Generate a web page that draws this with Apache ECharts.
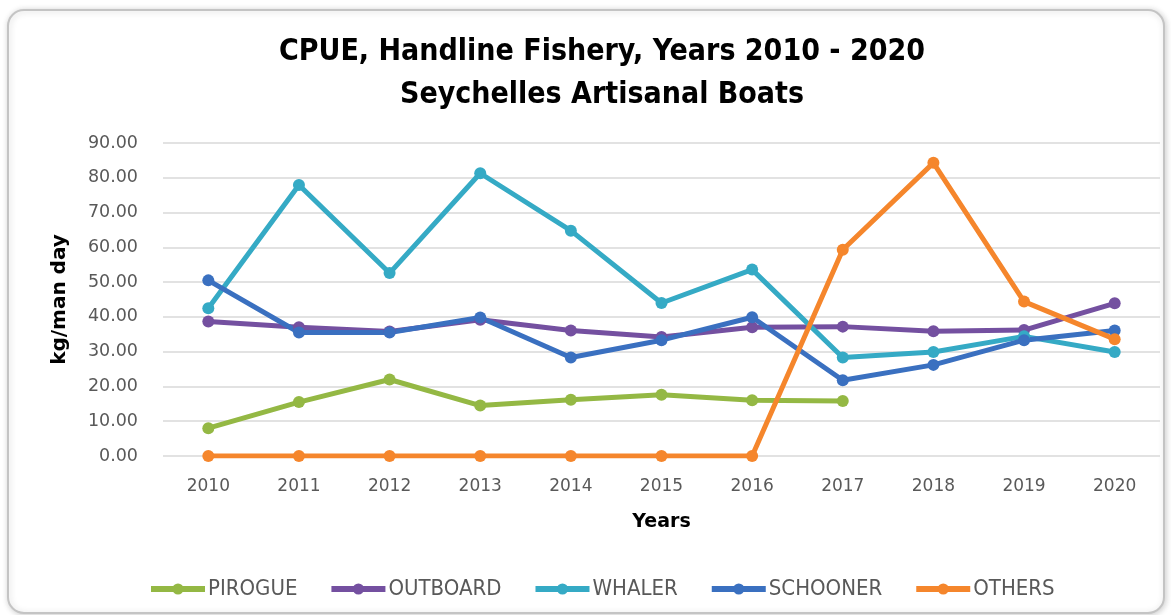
<!DOCTYPE html>
<html>
<head>
    <meta charset="utf-8">
    <title>CPUE Handline Fishery</title>
    <script src="https://cdn.jsdelivr.net/npm/echarts@6/dist/echarts.min.js"></script>
    <style>
        html, body { margin: 0; padding: 0; background: #fff; }
        #main { width: 1171px; height: 615px; }
    </style>
</head>
<body>
<div id="main"></div>
<script type="text/javascript">
// values
var years = ['2010', '2011', '2012', '2013', '2014', '2015', '2016', '2017', '2018', '2019', '2020'];
var pirogue  = [8.0, 15.5, 22.0, 14.5, 16.2, 17.6, 16.0, 15.8, null, null, null];
var outboard = [38.7, 37.0, 35.8, 39.2, 36.1, 34.2, 37.0, 37.2, 35.9, 36.2, 43.9];
var whaler   = [42.5, 77.9, 52.6, 81.3, 64.8, 44.0, 53.6, 28.3, 29.9, 34.4, 29.9];
var schooner = [50.5, 35.5, 35.5, 39.8, 28.3, 33.3, 39.9, 21.8, 26.2, 33.3, 36.1];
var others   = [0, 0, 0, 0, 0, 0, 0, 59.3, 84.3, 44.4, 33.6];

var names  = ['PIROGUE', 'OUTBOARD', 'WHALER', 'SCHOONER', 'OTHERS'];
var colors = ['#94b844', '#7450a0', '#35aac5', '#3a70c0', '#f5862c'];
var values = [pirogue, outboard, whaler, schooner, others];

var myChart = echarts.init(document.getElementById('main'));

var series = names.map(function (n, i) {
    return {
        name: n,
        type: 'line',
        data: values[i],
        symbol: 'circle',
        symbolSize: 12,
        connectNulls: false,
        itemStyle: { color: colors[i] },
        lineStyle: { width: 5, color: colors[i] },
        emphasis: { disabled: true }
    };
});

myChart.setOption({
    animation: false,
    backgroundColor: '#fff',
    graphic: [{
        type: 'rect',
        shape: { x: 8, y: 10, width: 1156, height: 603, r: 16 },
        style: {
            fill: '#fff', stroke: '#c4c4c4', lineWidth: 2,
            shadowBlur: 6, shadowColor: 'rgba(0,0,0,0.18)', shadowOffsetX: 1, shadowOffsetY: 1
        },
        z: -10, silent: true
    }],
    title: {
        text: 'CPUE, Handline Fishery, Years 2010 - 2020\nSeychelles Artisanal Boats',
        left: 597,
        top: 26,
        textAlign: 'center',
        textStyle: {
            fontFamily: '"DejaVu Sans Condensed", sans-serif',
            fontWeight: 'bold',
            fontSize: 30,
            lineHeight: 43,
            color: '#000'
        }
    },
    legend: {
        data: names,
        left: 143,
        top: 573,
        itemWidth: 54,
        itemHeight: 14,
        itemGap: 31,
        lineStyle: { width: 6 },
        textStyle: {
            fontFamily: '"DejaVu Sans Condensed", sans-serif',
            fontSize: 22,
            color: '#595959',
            padding: [0, 0, 0, -2]
        }
    },
    grid: { left: 163, right: 11, top: 143, height: 313 },
    xAxis: {
        type: 'category',
        data: years,
        boundaryGap: true,
        name: 'Years',
        nameLocation: 'middle',
        nameGap: 57,
        nameTextStyle: {
            fontFamily: 'DejaVu Sans, sans-serif',
            fontWeight: 'bold', fontSize: 19, color: '#000'
        },
        axisLine: { show: false },
        axisTick: { show: false },
        axisLabel: {
            margin: 22,
            fontFamily: 'DejaVu Sans, sans-serif',
            fontSize: 17, color: '#595959'
        }
    },
    yAxis: {
        type: 'value',
        min: 0,
        max: 90,
        interval: 10,
        name: 'kg/man day',
        nameLocation: 'middle',
        nameRotate: 90,
        nameGap: 93,
        nameTextStyle: {
            fontFamily: 'DejaVu Sans, sans-serif',
            fontWeight: 'bold', fontSize: 20, color: '#000'
        },
        axisLine: { show: false },
        axisTick: { show: false },
        axisLabel: {
            margin: 25,
            fontFamily: 'DejaVu Sans, sans-serif',
            fontSize: 17.5, color: '#595959',
            formatter: function (v) { return v.toFixed(2); }
        },
        splitLine: { lineStyle: { color: '#d9d9d9', width: 1.5 } }
    },
    series: series
});
</script>
</body>
</html>
